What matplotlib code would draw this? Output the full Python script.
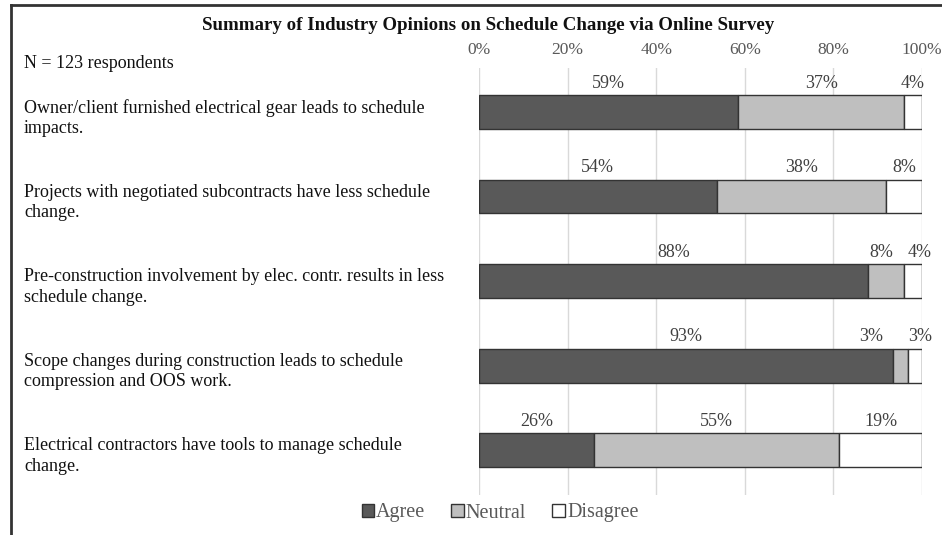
import numpy as np
import matplotlib
matplotlib.use('Agg')
from matplotlib import pyplot as plt
from matplotlib.patches import Patch
from matplotlib.lines import Line2D
from matplotlib.transforms import blended_transform_factory

plt.rcParams['font.family'] = 'Liberation Serif'

# survey statements (top to bottom)
statements = [
    'Owner/client furnished electrical gear leads to schedule\nimpacts.',
    'Projects with negotiated subcontracts have less schedule\nchange.',
    'Pre-construction involvement by elec. contr. results in less\nschedule change.',
    'Scope changes during construction leads to schedule\ncompression and OOS work.',
    'Electrical contractors have tools to manage schedule\nchange.',
]
# percent of respondents (N = 123)
agree = [58.54, 53.66, 87.80, 93.49, 26.02]
neutral = [37.40, 38.21, 8.13, 3.25, 55.28]
disagree = [4.06, 8.13, 4.07, 3.26, 18.70]
categories = ['Agree', 'Neutral', 'Disagree']
colors = ['#595959', '#bfbfbf', '#ffffff']
ticks = [0, 20, 40, 60, 80, 100]

# small nudges (in % units) for crowded labels
nudge = {(2, 1): -1.0, (2, 2): 1.6, (3, 1): -6.5, (3, 2): 1.2}

fig = plt.figure(figsize=(9.42, 5.35), dpi=100)
ax = fig.add_axes([479/942, 40/535, 443/942, 427/535])

series = [agree, neutral, disagree]
y = np.arange(len(statements))
left = np.zeros(len(statements))
for s, (vals, col) in enumerate(zip(series, colors)):
    vals = np.array(vals)
    ax.barh(y, vals, left=left, height=0.4, color=col, edgecolor='#333333',
            linewidth=1.0, zorder=3)
    for i, v in enumerate(vals):
        xc = left[i] + v/2 + nudge.get((i, s), 0)
        ax.text(xc, i - 0.34, '%.0f%%' % v, ha='center', va='center',
                fontsize=13, color='#404040')
    left += vals

ax.set_xlim(0, 100)
ax.set_ylim(len(statements) - 0.47, -0.52)
ax.xaxis.tick_top()
ax.set_xticks(ticks)
ax.set_xticklabels(['%d%%' % t for t in ticks], fontsize=12.5, color='#595959')
ax.tick_params(axis='x', length=0, pad=7.5)
ax.set_yticks([])
ax.grid(axis='x', color='#d9d9d9', linewidth=1, zorder=0)
for sp in ax.spines.values():
    sp.set_visible(False)

# statement labels on the left
tr = blended_transform_factory(fig.transFigure, ax.transData)
for i, lab in enumerate(statements):
    ax.text(24/942, i + 0.07, lab, transform=tr, ha='left', va='center',
            fontsize=13, color='#111111', linespacing=1.25)

fig.text(488/942, 1 - 26/535, 'Summary of Industry Opinions on Schedule Change via Online Survey',
         ha='center', va='center', fontsize=13.6, fontweight='bold', color='#111111')
fig.text(24/942, 1 - 63/535, 'N = 123 respondents', ha='left', va='center',
         fontsize=13, color='#111111')

handles = [Patch(facecolor=c, edgecolor='#333333', linewidth=1) for c in colors]
leg = fig.legend(handles, categories, loc='center', bbox_to_anchor=(500/942, 1 - 513/535),
                 ncol=3, frameon=False, fontsize=14.5, handlelength=0.6, handleheight=0.6,
                 handletextpad=0.12, columnspacing=1.3, labelcolor='#595959')

# outer frame (top and left edges)
fig.add_artist(Line2D([11/942, 11/942], [0, 1 - 5/535], color='#333333', linewidth=2,
                      transform=fig.transFigure))
fig.add_artist(Line2D([11/942, 1], [1 - 5/535, 1 - 5/535], color='#333333', linewidth=2,
                      transform=fig.transFigure))

fig.savefig('out.png', dpi=100)
